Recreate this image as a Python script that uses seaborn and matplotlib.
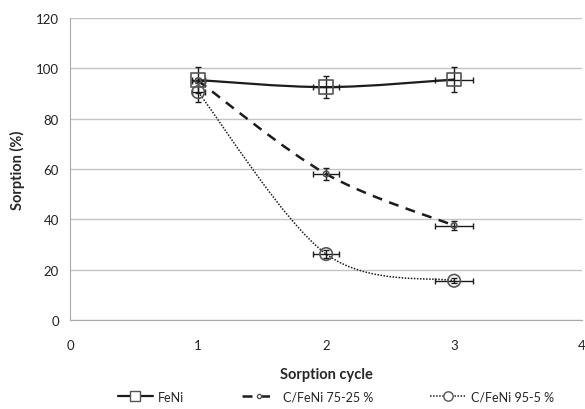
import numpy as np
import seaborn as sns
import matplotlib.pyplot as plt
from matplotlib.path import Path
from matplotlib.patches import PathPatch
from matplotlib.lines import Line2D

# data
cycles = [1, 2, 3]
series_names = ['FeNi', 'C/FeNi 75-25 %', 'C/FeNi 95-5 %']
feni = [95.3, 92.5, 95.5]
feni_yerr = [5.0, 4.3, 5.0]
cfeni_75 = [95.0, 58.0, 37.5]
cfeni_75_yerr = [1.0, 2.5, 1.7]
cfeni_95 = [90.5, 26.2, 15.6]
cfeni_95_yerr = [4.0, 1.5, 1.0]
x_err = [0.05, 0.1, 0.15]

sns.set_style('white')
plt.rcParams['font.family'] = ['Lato', 'DejaVu Sans']

fig = plt.figure(figsize=(5.85, 4.1), dpi=100)
ax = fig.add_axes([0.12, 0.217, 0.875, 0.737])

ink = '#1c1c1c'


def smooth_path(xs, ys):
    # excel style smoothed line (bezier through the points)
    p = np.column_stack([xs, ys]).astype(float)
    n = len(p)
    verts = [p[0]]
    codes = [Path.MOVETO]
    for i in range(n - 1):
        p0 = p[i - 1] if i > 0 else p[i]
        p3 = p[i + 2] if i + 2 < n else p[i + 1]
        c1 = p[i] + (p[i + 1] - p0) / 6
        c2 = p[i + 1] - (p3 - p[i]) / 6
        verts += [c1, c2, p[i + 1]]
        codes += [Path.CURVE4] * 3
    return Path(verts, codes)


styles = [
    dict(ls='-', lw=1.6, marker='s', ms=10),
    dict(ls=(0, (4, 3)), lw=1.8, marker='o', ms=4),
    dict(ls=(0, (1, 1)), lw=1.1, marker='o', ms=9),
]
values = [feni, cfeni_75, cfeni_95]
errs = [feni_yerr, cfeni_75_yerr, cfeni_95_yerr]

for ys, ye, st in zip(values, errs, styles):
    ax.add_patch(PathPatch(smooth_path(cycles, ys), fill=False, edgecolor=ink,
                           lw=st['lw'], ls=st['ls'], zorder=3))
    ax.errorbar(cycles, ys, yerr=ye, xerr=x_err, fmt='none', ecolor=ink,
                elinewidth=1.0, capsize=2.5, capthick=1.0, zorder=4)
    sns.scatterplot(x=cycles, y=ys, ax=ax, marker=st['marker'], s=st['ms'] ** 2,
                    facecolor='none', edgecolor='#555555', linewidth=1.2, zorder=5)

ax.set_xlim(0, 4)
ax.set_ylim(0, 120)
ax.set_xticks(range(0, 5))
ax.set_yticks(range(0, 121, 20))
ax.yaxis.grid(True, color='#c4c4c4', lw=1.0)
ax.set_axisbelow(True)
for s in ['top', 'right']:
    ax.spines[s].set_visible(False)
ax.spines['left'].set_color('#a8a8a8')
ax.spines['bottom'].set_color('#a8a8a8')
ax.tick_params(axis='both', length=4, color='#a8a8a8', labelsize=9.5, colors='#222222', pad=10)
ax.tick_params(axis='y', pad=4)
ax.set_xlabel('Sorption cycle', fontsize=10.5, fontweight='bold', labelpad=11)
ax.set_ylabel('Sorption (%)', fontsize=10.5, fontweight='bold', labelpad=8)

handles = [Line2D([0], [0], color=ink, lw=st['lw'], ls=st['ls'], marker=st['marker'],
                  ms=st['ms'] * 0.75, mfc='white', mec='#555555')
           for st in styles]
fig.legend(handles, series_names, loc='center', bbox_to_anchor=(0.574, 0.03), ncol=3,
           frameon=False, fontsize=9, handlelength=2.8, columnspacing=4.6, handletextpad=0.45)

fig.savefig('out.png', dpi=100)
